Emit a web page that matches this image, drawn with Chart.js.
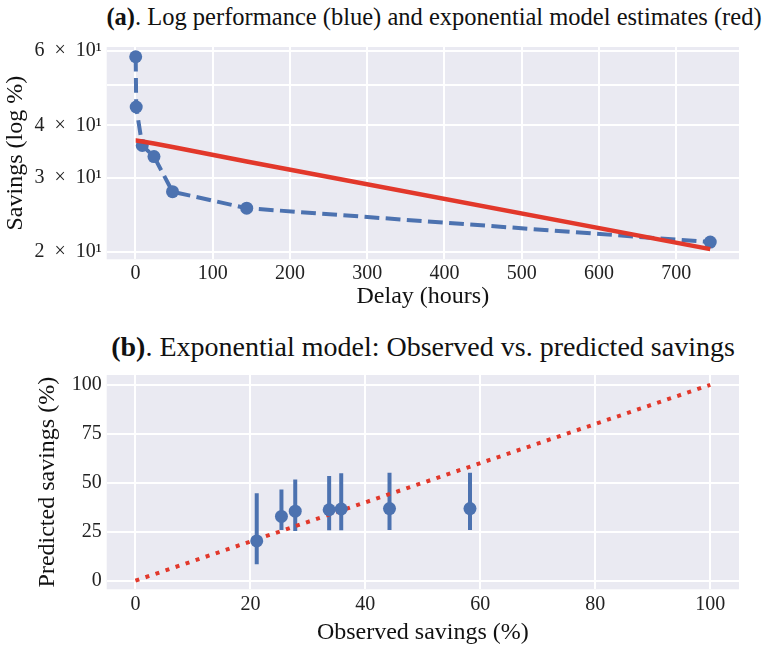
<!DOCTYPE html>
<html>
<head>
<meta charset="utf-8">
<script src="https://cdn.jsdelivr.net/npm/chart.js@4"></script>
<style>
  body { margin: 0; background: #fff; }
  #wrap { position: relative; width: 764px; height: 648px; font-family: 'Liberation Serif', serif; }
  canvas { position: absolute; left: 0; }
  .title { position: absolute; text-align: center; color: #111; white-space: nowrap; }
  #titleA { left: 84px; width: 700px; top: 3px; font-size: 24.5px; line-height: 28px; }
  #titleB { left: 73px; width: 700px; top: 331px; font-size: 28px; line-height: 32px; }
</style>
</head>
<body>
<div id="wrap">
  <div class="title" id="titleA"><b>(a)</b>. Log performance (blue) and exponential model estimates (red)</div>
  <canvas id="topChart" width="764" height="290" style="top:30px"></canvas>
  <div class="title" id="titleB"><b>(b)</b>. Exponential model: Observed vs. predicted savings</div>
  <canvas id="bottomChart" width="764" height="328" style="top:320px"></canvas>
</div>
<script>
// savings at each delay, and the exponential model's estimates
const delayHours = [0.33, 1, 8.8, 24, 48, 144, 744];
const observedSavings = [58.2, 44.2, 35.8, 33.7, 27.8, 25.4, 21.1];
const predictedSavings = [36.8, 36.8, 36.6, 36.2, 35.5, 32.8, 20.3];
const predictedUpper = [55.1, 55.1, 54.8, 53.4, 51.7, 46.6, 44.6];
const predictedLower = [25.9, 25.9, 25.7, 25.7, 25.4, 25.9, 8.4];

const delayTicks = [0, 100, 200, 300, 400, 500, 600, 700];
const logTicks = [20, 30, 40, 50, 60];
const logTickLabels = ['2\u2002×\u200210¹', '3\u2002×\u200210¹', '4\u2002×\u200210¹', '', '6\u2002×\u200210¹'];
const savingsTicks = [0, 20, 40, 60, 80, 100];
const predTicks = [0, 25, 50, 75, 100];
const identityLine = [0, 100];

const BLUE = '#4C72B0';
const RED = '#E2382B';
const FONT = 'Liberation Serif';

Chart.defaults.animation = false;

const plotBackground = {
  id: 'plotBackground',
  beforeDraw(chart) {
    const { ctx, chartArea: a } = chart;
    ctx.save();
    ctx.fillStyle = '#EAEAF2';
    ctx.fillRect(a.left, a.top, a.width, a.height);
    ctx.restore();
  },
};

// shared axis look: white grid on grey, no border, ticks only where listed
function axis(tickValues, min, max, size, tickPad, titleText, titlePad, extra) {
  return Object.assign({
    type: 'linear',
    min: min,
    max: max,
    afterBuildTicks: (scale) => {
      scale.ticks = tickValues.map((v) => ({ value: v }));
    },
    afterFit: (scale) => {
      if (scale.isHorizontal()) scale.height = size;
      else scale.width = size;
    },
    grid: { color: '#fff', lineWidth: 2, drawTicks: false },
    border: { display: false },
    ticks: { color: '#222', padding: tickPad, font: { family: FONT, size: 20 } },
    title: {
      display: true,
      text: titleText,
      color: '#111',
      font: { family: FONT, size: 24 },
      padding: titlePad,
    },
  }, extra);
}

// (a) log performance and exponential fit
new Chart(document.getElementById('topChart'), {
  type: 'line',
  data: {
    datasets: [
      {
        label: 'Exponential model',
        data: delayHours.map((d, i) => ({ x: d, y: predictedSavings[i] })),
        borderColor: RED,
        borderWidth: 4.5,
        pointRadius: 0,
      },
      {
        label: 'Observed',
        data: delayHours.map((d, i) => ({ x: d, y: observedSavings[i] })),
        borderColor: BLUE,
        borderWidth: 4,
        borderDash: [14.8, 6.4],
        pointRadius: 6.5,
        pointBackgroundColor: BLUE,
        pointBorderWidth: 0,
      },
    ],
  },
  options: {
    responsive: false,
    devicePixelRatio: 1,
    layout: { padding: { top: 15, right: 25, bottom: 0, left: 0 } },
    plugins: { legend: { display: false }, tooltip: { enabled: false } },
    scales: {
      x: axis(delayTicks, -37.2, 781.2, 60.7, 2.7, 'Delay (hours)', { top: 0, bottom: 8.6 }),
      y: axis(logTicks, 19.2, 61.4, 106.7, 5, 'Savings (log %)', { top: 1.4, bottom: 0 }, {
        type: 'logarithmic',
        ticks: {
          color: '#222',
          padding: 5,
          font: { family: FONT, size: 20 },
          callback: (v) => {
            const i = logTicks.indexOf(Math.round(v));
            return i >= 0 ? logTickLabels[i] : '';
          },
        },
      }),
    },
  },
  plugins: [plotBackground],
});

// error bars: one vertical segment per point, broken by a null
const errorSegments = [];
observedSavings.forEach((o, i) => {
  errorSegments.push({ x: o, y: predictedLower[i] });
  errorSegments.push({ x: o, y: predictedUpper[i] });
  errorSegments.push({ x: o, y: null });
});

// (b) observed vs predicted
new Chart(document.getElementById('bottomChart'), {
  type: 'line',
  data: {
    datasets: [
      {
        label: 'Predicted',
        data: observedSavings.map((o, i) => ({ x: o, y: predictedSavings[i] })),
        showLine: false,
        pointRadius: 6.5,
        pointBackgroundColor: BLUE,
        pointBorderWidth: 0,
      },
      {
        label: 'Identity',
        data: identityLine.map((v) => ({ x: v, y: v })),
        borderColor: RED,
        borderWidth: 4,
        borderDash: [4, 6.6],
        borderCapStyle: 'butt',
        pointRadius: 0,
      },
      {
        label: 'Error',
        data: errorSegments,
        borderColor: BLUE,
        borderWidth: 4,
        pointRadius: 0,
        spanGaps: false,
      },
    ],
  },
  options: {
    responsive: false,
    devicePixelRatio: 1,
    layout: { padding: { top: 55, right: 25, bottom: 0, left: 0 } },
    plugins: { legend: { display: false }, tooltip: { enabled: false } },
    scales: {
      x: axis(savingsTicks, -5, 105, 58.7, 3.7, 'Observed savings (%)', { top: 0, bottom: 0.6 }),
      y: axis(predTicks, -4.4, 105, 106.7, 5, 'Predicted savings (%)', { top: 33, bottom: 0 }),
    },
  },
  plugins: [plotBackground],
});
</script>
</body>
</html>
